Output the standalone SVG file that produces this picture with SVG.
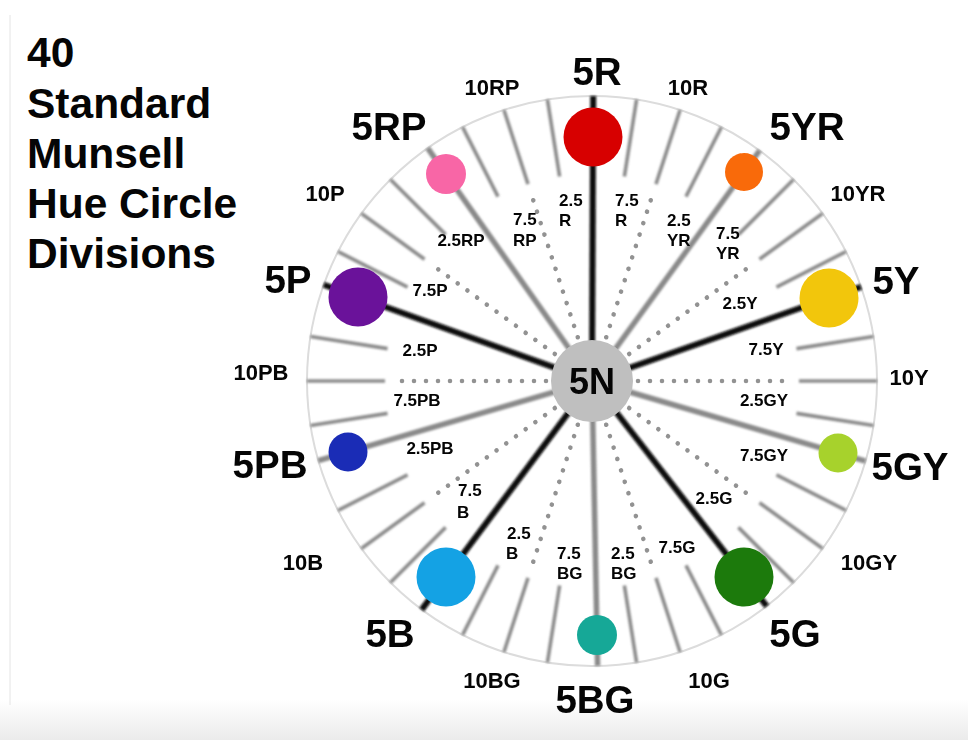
<svg xmlns="http://www.w3.org/2000/svg" width="968" height="740" viewBox="0 0 968 740">
  <defs>
    <style>
      text { font-family: "Liberation Sans", Arial, Helvetica, sans-serif; font-weight: bold; fill: #050505; }
      .title { font-size: 42.5px; }
      .big { font-size: 38.5px; text-anchor: middle; }
      .mid { font-size: 22px; text-anchor: middle; }
      .sm { font-size: 17px; text-anchor: middle; }
      .sm2 { font-size: 17px; }
      .main { stroke: #0a0a0a; stroke-width: 6; }
      .sub { stroke: #8a8a8a; stroke-width: 5.5; }
    </style>
    <linearGradient id="floor" x1="0" y1="0" x2="0" y2="1">
      <stop offset="0" stop-color="#ffffff"/>
      <stop offset="1" stop-color="#ebebeb"/>
    </linearGradient>
    <filter id="soft" filterUnits="userSpaceOnUse" x="0" y="0" width="968" height="740">
      <feGaussianBlur stdDeviation="1.1"/>
    </filter>
    <filter id="softer" filterUnits="userSpaceOnUse" x="0" y="0" width="968" height="740">
      <feGaussianBlur stdDeviation="0.5"/>
    </filter>
    <!-- outer tick for every hue step, drawn pointing up from the hub -->
    <line id="rim" x1="0" y1="-207" x2="0" y2="-285" stroke="#8c8c8c" stroke-width="3.6"/>
    <!-- dotted inner spoke used by the 10-hues -->
    <line id="dotline" x1="0" y1="-46" x2="0" y2="-198" stroke="#929292" stroke-width="4.6" stroke-linecap="round" stroke-dasharray="0 12"/>
  </defs>

  <!-- page -->
  <rect width="968" height="740" fill="#ffffff"/>
  <rect x="0" y="700" width="968" height="40" fill="url(#floor)"/>
  <line x1="10" y1="15" x2="10" y2="705" stroke="#e4e4e4" stroke-width="1"/>

  <!-- title -->
  <g id="title">
    <text class="title" x="27" y="67">40</text>
    <text class="title" x="27" y="118">Standard</text>
    <text class="title" x="27" y="168">Munsell</text>
    <text class="title" x="27" y="218">Hue Circle</text>
    <text class="title" x="27" y="268">Divisions</text>
  </g>

  <!-- dial face -->
  <circle id="dial" cx="592" cy="381" r="285" fill="#ffffff" stroke="#dcdcdc" stroke-width="2"/>

  <!-- spokes -->
  <g id="connectors">
    <g filter="url(#softer)">
      <g transform="translate(592 381)">
        <use href="#dotline" transform="rotate(18)"/>
        <use href="#dotline" transform="rotate(54)"/>
        <use href="#dotline" transform="rotate(90)"/>
        <use href="#dotline" transform="rotate(126)"/>
        <use href="#dotline" transform="rotate(162)"/>
        <use href="#dotline" transform="rotate(198)"/>
        <use href="#dotline" transform="rotate(234)"/>
        <use href="#dotline" transform="rotate(270)"/>
        <use href="#dotline" transform="rotate(306)"/>
        <use href="#dotline" transform="rotate(342)"/>
      </g>
    </g>
    <g filter="url(#soft)">
      <g transform="translate(592 381)">
        <use href="#rim" transform="rotate(9)"/>
        <use href="#rim" transform="rotate(18)"/>
        <use href="#rim" transform="rotate(27)"/>
        <use href="#rim" transform="rotate(45)"/>
        <use href="#rim" transform="rotate(54)"/>
        <use href="#rim" transform="rotate(63)"/>
        <use href="#rim" transform="rotate(81)"/>
        <use href="#rim" transform="rotate(90)"/>
        <use href="#rim" transform="rotate(99)"/>
        <use href="#rim" transform="rotate(117)"/>
        <use href="#rim" transform="rotate(126)"/>
        <use href="#rim" transform="rotate(135)"/>
        <use href="#rim" transform="rotate(153)"/>
        <use href="#rim" transform="rotate(162)"/>
        <use href="#rim" transform="rotate(171)"/>
        <use href="#rim" transform="rotate(189)"/>
        <use href="#rim" transform="rotate(198)"/>
        <use href="#rim" transform="rotate(207)"/>
        <use href="#rim" transform="rotate(225)"/>
        <use href="#rim" transform="rotate(234)"/>
        <use href="#rim" transform="rotate(243)"/>
        <use href="#rim" transform="rotate(261)"/>
        <use href="#rim" transform="rotate(270)"/>
        <use href="#rim" transform="rotate(279)"/>
        <use href="#rim" transform="rotate(297)"/>
        <use href="#rim" transform="rotate(306)"/>
        <use href="#rim" transform="rotate(315)"/>
        <use href="#rim" transform="rotate(333)"/>
        <use href="#rim" transform="rotate(342)"/>
        <use href="#rim" transform="rotate(351)"/>
      </g>

      <!-- intermediate hues -->
      <line class="sub" x1="592" y1="381" x2="759.6" y2="150.5"/>
      <line class="sub" x1="592" y1="381" x2="865.5" y2="461.1"/>
      <line class="sub" x1="592" y1="381" x2="597.6" y2="665.9"/>
      <line class="sub" x1="592" y1="381" x2="318.3" y2="460.6"/>
      <line class="sub" x1="592" y1="381" x2="427.7" y2="148.1"/>

      <!-- principal hues -->
      <line class="main" x1="592" y1="381" x2="593.2" y2="96"/>
      <line class="main" x1="592" y1="381" x2="861" y2="286.8"/>
      <line class="main" x1="592" y1="381" x2="766.7" y2="606.2"/>
      <line class="main" x1="592" y1="381" x2="421.7" y2="609.6"/>
      <line class="main" x1="592" y1="381" x2="323.7" y2="284.7"/>
    </g>
  </g>

  <!-- neutral hub -->
  <g id="hub-5N">
    <circle cx="592" cy="381" r="41" fill="#bfbfbf"/>
    <text x="592" y="394" style="font-size:36px;text-anchor:middle">5N</text>
  </g>

  <!-- hue nodes: swatch + labels -->
  <g id="hue-R">
    <circle cx="593" cy="137" r="29.5" fill="#d70000"/>
    <text class="big" x="597" y="85">5R</text>
    <text class="mid" x="688" y="95">10R</text>
    <text class="sm2" x="615" y="206">7.5</text>
    <text class="sm2" x="615" y="226">R</text>
    <text class="sm2" x="559" y="206">2.5</text>
    <text class="sm2" x="559" y="226">R</text>
  </g>

  <g id="hue-YR">
    <circle cx="744" cy="172" r="19" fill="#f96a0a"/>
    <text class="big" x="807" y="140">5YR</text>
    <text class="mid" x="858" y="201">10YR</text>
    <text class="sm2" x="667" y="226">2.5</text>
    <text class="sm2" x="667" y="246">YR</text>
    <text class="sm2" x="716" y="239">7.5</text>
    <text class="sm2" x="716" y="259">YR</text>
  </g>

  <g id="hue-Y">
    <circle cx="829" cy="298" r="29.5" fill="#f2c60c"/>
    <text class="big" x="896" y="294">5Y</text>
    <text class="mid" x="909" y="385">10Y</text>
    <text class="sm" x="740" y="309">2.5Y</text>
    <text class="sm" x="766" y="355">7.5Y</text>
  </g>

  <g id="hue-GY">
    <circle cx="838" cy="453" r="19.5" fill="#a7d22c"/>
    <text class="big" x="910" y="480">5GY</text>
    <text class="mid" x="869" y="570">10GY</text>
    <text class="sm" x="764" y="406">2.5GY</text>
    <text class="sm" x="764" y="461">7.5GY</text>
  </g>

  <g id="hue-G">
    <circle cx="744" cy="577" r="29.5" fill="#1c7a0c"/>
    <text class="big" x="795" y="647">5G</text>
    <text class="mid" x="709" y="688">10G</text>
    <text class="sm" x="714" y="504">2.5G</text>
    <text class="sm" x="677" y="553">7.5G</text>
  </g>

  <g id="hue-BG">
    <circle cx="597" cy="635" r="20" fill="#16a897"/>
    <text class="big" x="595" y="713">5BG</text>
    <text class="mid" x="492" y="688">10BG</text>
    <text class="sm2" x="611" y="559">2.5</text>
    <text class="sm2" x="611" y="579">BG</text>
    <text class="sm2" x="557" y="559">7.5</text>
    <text class="sm2" x="557" y="579">BG</text>
  </g>

  <g id="hue-B">
    <circle cx="446" cy="577" r="29.5" fill="#14a2e4"/>
    <text class="big" x="390" y="647">5B</text>
    <text class="mid" x="303" y="570">10B</text>
    <text class="sm2" x="507" y="539">2.5</text>
    <text class="sm2" x="506" y="559">B</text>
    <text class="sm2" x="458" y="496">7.5</text>
    <text class="sm2" x="457" y="518">B</text>
  </g>

  <g id="hue-PB">
    <circle cx="348" cy="452" r="19.5" fill="#1a2cb6"/>
    <text class="big" x="270" y="478">5PB</text>
    <text class="mid" x="261" y="380">10PB</text>
    <text class="sm" x="430" y="454">2.5PB</text>
    <text class="sm" x="417" y="406">7.5PB</text>
  </g>

  <g id="hue-P">
    <circle cx="358" cy="297" r="29.5" fill="#6a129a"/>
    <text class="big" x="288" y="293">5P</text>
    <text class="mid" x="325" y="201">10P</text>
    <text class="sm" x="420" y="356">2.5P</text>
    <text class="sm" x="430" y="296">7.5P</text>
  </g>

  <g id="hue-RP">
    <circle cx="446" cy="174" r="20" fill="#f866a6"/>
    <text class="big" x="389" y="140">5RP</text>
    <text class="mid" x="492" y="95">10RP</text>
    <text class="sm" x="461" y="246">2.5RP</text>
    <text class="sm2" x="513" y="225">7.5</text>
    <text class="sm2" x="513" y="246">RP</text>
  </g>
</svg>
